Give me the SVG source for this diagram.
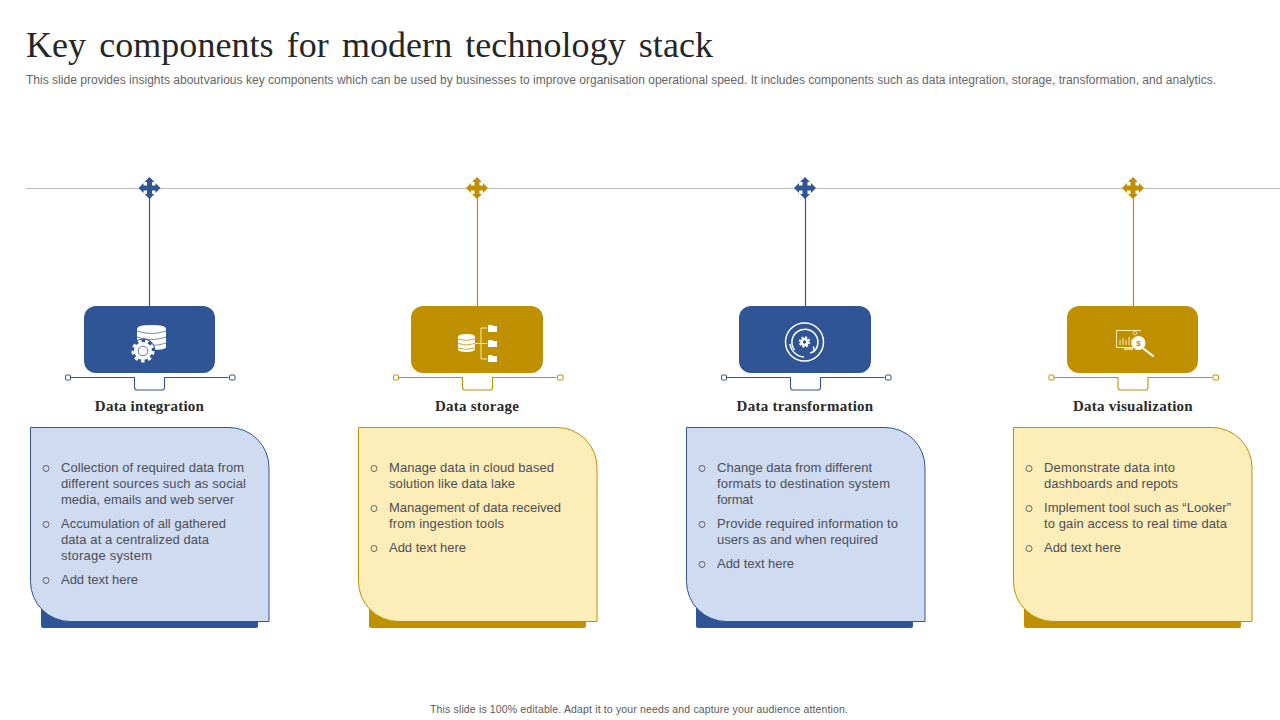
<svg xmlns="http://www.w3.org/2000/svg" width="1280" height="720" viewBox="0 0 1280 720">
<style>
.title{font:36px "Liberation Serif",serif;fill:#262626;word-spacing:4px}
.sub{font:12px "Liberation Sans",Arial,sans-serif;fill:#666}
.foot{font:10.500px "Liberation Sans",Arial,sans-serif;fill:#5a5a5a}
.head{font:bold 15px "Liberation Serif",serif;fill:#2a2a2a;text-anchor:middle;letter-spacing:.25px}
.b{font:13px "Liberation Sans",Arial,sans-serif;fill:#4c4f58}
.ring{fill:none;stroke:#555;stroke-width:.9}
.blue{--c:#2f5597}
.gold{--c:#bf9000}
.fillc{fill:var(--c)}
.strokec{stroke:var(--c);fill:none}
.w{fill:#fff}
.wl{fill:none;stroke:#fff}
.cardb{fill:#cfdbf1}
.cardg{fill:#fdedb9}
</style>
<defs>
<path id="cross" d="M0-11 L5-6 H2.500 V-2.500 H6 V-5 L11 0 L6 5 V2.500 H2.500 V6 H5 L0 11 L-5 6 H-2.500 V2.500 H-6 V5 L-11 0 L-6-5 V-2.500 H-2.500 V-6 H-5 Z"/>
<path id="card" d="M0 0 H198.500 A40 40 0 0 1 238.500 40 V194 H40 A40 40 0 0 1 0 154 Z"/>
<path id="bracket" d="M-80 0 H-15 V10 Q-15 12.500 -12.500 12.500 H12.500 Q15 12.500 15 10 V0 H79" stroke-width="1.100"/>
</defs>
<text class="title" x="26" y="57" textLength="687" lengthAdjust="spacing">Key components for modern technology stack</text>
<text class="sub" x="26" y="84" textLength="1190" lengthAdjust="spacing">This slide provides insights <tspan word-spacing="-3">about </tspan>various key components which can be used by businesses to improve organisation operational speed. It includes components such as data integration, storage, transformation, and analytics.</text>
<text class="foot" x="430" y="713" textLength="418" lengthAdjust="spacing">This slide is 100% editable.  Adapt it to your  needs and capture your audience attention.</text>

<g id="connectors">
<line x1="26" y1="188.500" x2="1280" y2="188.500" stroke="#bcbcbc" stroke-width="1.200"/>
<line x1="149.500" y1="188" x2="149.500" y2="306" stroke="#2f5597" stroke-width="1.200"/>
<line x1="477.500" y1="188" x2="477.500" y2="306" stroke="#bf9000" stroke-width="1.200"/>
<line x1="805.500" y1="188" x2="805.500" y2="306" stroke="#2f5597" stroke-width="1.200"/>
<line x1="1133.500" y1="188" x2="1133.500" y2="306" stroke="#bf9000" stroke-width="1.200"/>
</g>

<g id="node1" class="blue">
<use href="#cross" x="149.500" y="188" class="fillc"/>
<rect class="fillc" x="84" y="306" width="131" height="67" rx="12"/>
<g transform="translate(149.500 377.500)" class="strokec"><use href="#bracket"/><rect x="-84" y="-2.500" width="5" height="5" rx="1" fill="#fff"/><rect x="80" y="-2.500" width="5.500" height="5" rx="1" fill="#fff"/></g>
<g id="icon1">
<path class="w" d="M137 329 Q137 325 151.500 325 Q166 325 166 329 V347 Q166 350 151.500 350 Q137 350 137 347 Z"/>
<path fill="none" stroke="#2f5597" stroke-width=".7" d="M137 331 Q151.500 336 166 331 M137 337 Q151.500 342 166 337 M137 343 Q151.500 348 166 343"/>
<circle cx="143" cy="351" r="12.500" fill="#2f5597"/>
<circle cx="143" cy="351" r="9" class="w"/>
<circle cx="143" cy="351" r="10" fill="none" stroke="#fff" stroke-width="3" stroke-dasharray="3.500 3.480"/>
<circle cx="143" cy="351" r="4.800" fill="none" stroke="#2f5597" stroke-width=".8"/>
</g>
<text class="head" x="149.500" y="411">Data integration</text>
<rect class="fillc" x="41" y="600" width="217" height="28" rx="2"/>
<use href="#card" x="30.500" y="427.500" class="cardb" stroke="#2f5597"/>
<g id="t1">
<circle class="ring" cx="46" cy="468.500" r="3"/><text class="b" x="61" y="472" textLength="183">Collection of required data from</text>
<text class="b" x="61" y="488" textLength="185">different sources such as social</text>
<text class="b" x="61" y="504" textLength="173">media, emails and web server</text>
<circle class="ring" cx="46" cy="524.500" r="3"/><text class="b" x="61" y="528" textLength="165">Accumulation of all gathered</text>
<text class="b" x="61" y="544" textLength="148">data at a centralized data</text>
<text class="b" x="61" y="560" textLength="91">storage system</text>
<circle class="ring" cx="46" cy="580.500" r="3"/><text class="b" x="61" y="584" textLength="77">Add text here</text>
</g>
</g>

<g id="node2" class="gold">
<use href="#cross" x="477" y="188" class="fillc"/>
<rect class="fillc" x="411" y="306" width="132" height="67" rx="12"/>
<g transform="translate(477.500 377.500)" class="strokec"><use href="#bracket"/><rect x="-84" y="-2.500" width="5" height="5" rx="1" fill="#fff"/><rect x="80" y="-2.500" width="5.500" height="5" rx="1" fill="#fff"/></g>
<g id="icon2">
<path class="w" d="M458 337 Q458 334 466.500 334 Q475 334 475 337 V349 Q475 352 466.500 352 Q458 352 458 349 Z"/>
<path fill="none" stroke="#bf9000" stroke-width=".8" d="M458 339 Q466.500 342 475 339 M458 343.500 Q466.500 346.500 475 343.500 M458 348 Q466.500 351 475 348"/>
<path fill="none" stroke="#fde9a8" stroke-width="1" d="M475 343.500 H487 M481 328 H487 M481 328 V359 M481 359 H487"/>
<path class="w" d="M488 325 H492 L493 326 H497 V332 H488 Z M488 340 H492 L493 341 H497 V347 H488 Z M488 355 H492 L493 356 H497 V362 H488 Z"/>
</g>
<text class="head" x="477" y="411">Data storage</text>
<rect class="fillc" x="369" y="600" width="217" height="28" rx="2"/>
<use href="#card" x="358.500" y="427.500" class="cardg" stroke="#bf9000"/>
<g id="t2">
<circle class="ring" cx="374" cy="468.500" r="3"/><text class="b" x="389" y="472" textLength="165">Manage data in cloud based</text>
<text class="b" x="389" y="488" textLength="126">solution like data lake</text>
<circle class="ring" cx="374" cy="508.500" r="3"/><text class="b" x="389" y="512" textLength="172">Management of data received</text>
<text class="b" x="389" y="528" textLength="115">from ingestion tools</text>
<circle class="ring" cx="374" cy="548.500" r="3"/><text class="b" x="389" y="552" textLength="77">Add text here</text>
</g>
</g>

<g id="node3" class="blue">
<use href="#cross" x="805" y="188" class="fillc"/>
<rect class="fillc" x="739" y="306" width="132" height="67" rx="12"/>
<g transform="translate(805.500 377.500)" class="strokec"><use href="#bracket"/><rect x="-84" y="-2.500" width="5" height="5" rx="1" fill="#fff"/><rect x="80" y="-2.500" width="5.500" height="5" rx="1" fill="#fff"/></g>
<g id="icon3">
<circle class="wl" cx="804.500" cy="342" r="19" stroke-width="1.500"/>
<path class="wl" stroke-width="1.500" d="M794.500 350 A13 13 0 1 1 814 351.500 L810 353 M814 351.500 L813.500 346.500"/>
<path class="wl" stroke-width="1.500" d="M790 344 A15 15 0 0 0 804 357"/>
<circle class="wl" cx="804.500" cy="342" r="3" stroke-width="2.600"/>
<circle class="wl" cx="804.500" cy="342" r="4.800" stroke-width="1.800" stroke-dasharray="2 1.770"/>
</g>
<text class="head" x="805" y="411">Data transformation</text>
<rect class="fillc" x="696" y="600" width="217" height="28" rx="2"/>
<use href="#card" x="686.500" y="427.500" class="cardb" stroke="#2f5597"/>
<g id="t3">
<circle class="ring" cx="702" cy="468.500" r="3"/><text class="b" x="717" y="472" textLength="155">Change data from different</text>
<text class="b" x="717" y="488" textLength="173">formats to destination system</text>
<text class="b" x="717" y="504" textLength="36">format</text>
<circle class="ring" cx="702" cy="524.500" r="3"/><text class="b" x="717" y="528" textLength="181">Provide required information to</text>
<text class="b" x="717" y="544" textLength="161">users as and when required</text>
<circle class="ring" cx="702" cy="564.500" r="3"/><text class="b" x="717" y="568" textLength="77">Add text here</text>
</g>
</g>

<g id="node4" class="gold">
<use href="#cross" x="1133" y="188" class="fillc"/>
<rect class="fillc" x="1067" y="306" width="131" height="67" rx="12"/>
<g transform="translate(1133 377.500)" class="strokec"><use href="#bracket"/><rect x="-84" y="-2.500" width="5" height="5" rx="1" fill="#fff"/><rect x="80" y="-2.500" width="5.500" height="5" rx="1" fill="#fff"/></g>
<g id="icon4">
<path fill="none" stroke="#fdeeb8" stroke-width="1" d="M1141 330.500 H1116.500 V347.500 H1133"/>
<path fill="none" stroke="#fdeeb8" stroke-width="1" d="M1120 345 V340 M1123 345 V338 M1126 345 V340 M1129 345 V337 M1132 345 V339"/>
<path fill="none" stroke="#fdeeb8" stroke-width="1.500" d="M1124 349 H1133"/>
<circle cx="1135" cy="333" r="1.800" fill="none" stroke="#fdeeb8" stroke-width=".8"/>
<circle class="w" cx="1138.500" cy="343" r="7"/>
<text x="1138.500" y="346" font-family="'Liberation Sans',Arial,sans-serif" font-weight="bold" font-size="8" fill="#bf9000" text-anchor="middle">$</text>
<path class="wl" stroke-width="2.200" stroke-linecap="round" d="M1144 349 L1153 356"/>
</g>
<text class="head" x="1133" y="411">Data visualization</text>
<rect class="fillc" x="1024" y="600" width="217" height="28" rx="2"/>
<use href="#card" x="1013.500" y="427.500" class="cardg" stroke="#bf9000"/>
<g id="t4">
<circle class="ring" cx="1029" cy="468.500" r="3"/><text class="b" x="1044" y="472" textLength="131">Demonstrate data into</text>
<text class="b" x="1044" y="488" textLength="134">dashboards and repots</text>
<circle class="ring" cx="1029" cy="508.500" r="3"/><text class="b" x="1044" y="512" textLength="187">Implement tool such as “Looker”</text>
<text class="b" x="1044" y="528" textLength="183">to gain access to real time data</text>
<circle class="ring" cx="1029" cy="548.500" r="3"/><text class="b" x="1044" y="552" textLength="77">Add text here</text>
</g>
</g>
</svg>
